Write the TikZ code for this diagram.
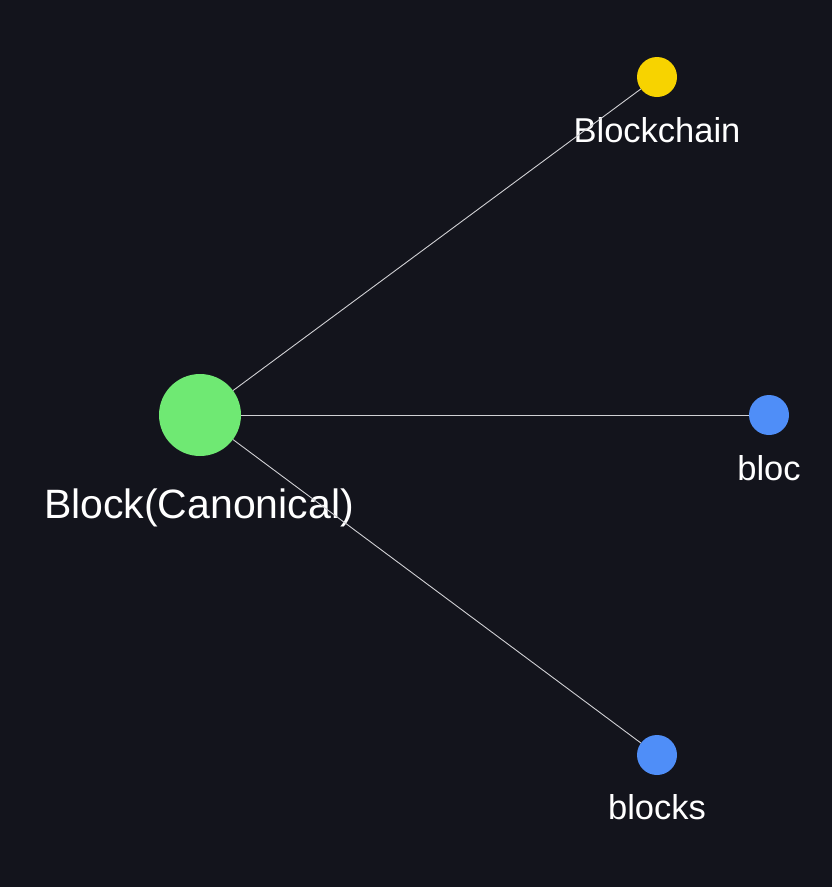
\documentclass[tikz,border=0pt]{standalone}
\usepackage{fontspec}
\setmainfont{Liberation Sans}
\definecolor{bgnavy}{HTML}{13141C}
\definecolor{canongreen}{HTML}{6FE973}
\definecolor{chainyellow}{HTML}{F7D300}
\definecolor{formblue}{HTML}{4F8EF8}
\definecolor{linkgray}{HTML}{D0D0D4}
\begin{document}
\begin{tikzpicture}[x=1pt,y=-1pt,
  dot/.style={circle,inner sep=0pt,minimum size=40pt},
  biglabel/.style={text=white,anchor=base,font=\fontsize{41}{48}\selectfont},
  smalllabel/.style={text=white,anchor=base,font=\fontsize{34.5}{41}\selectfont},
  link/.style={draw=linkgray,line width=0.9pt}]
\fill[bgnavy] (0,0) rectangle (832,887);
\node[dot,fill=canongreen,minimum size=82pt] (canon) at (200,415) {};
\node[dot,fill=chainyellow] (chain) at (657,77) {};
\node[dot,fill=formblue] (bloc) at (769,415) {};
\node[dot,fill=formblue] (blocks) at (657,755) {};
\node[biglabel] (canonlbl) at (199,518) {Block(Canonical)};
\node[smalllabel] (chainlbl) at (657,142) {Blockchain};
\node[smalllabel] (bloclbl) at (769,480) {bloc};
\node[smalllabel] (blockslbl) at (657,819) {blocks};
\draw[link] (canon) -- (chain);
\draw[link] (canon) -- (bloc);
\draw[link] (canon) -- (blocks);
\end{tikzpicture}
\end{document}
